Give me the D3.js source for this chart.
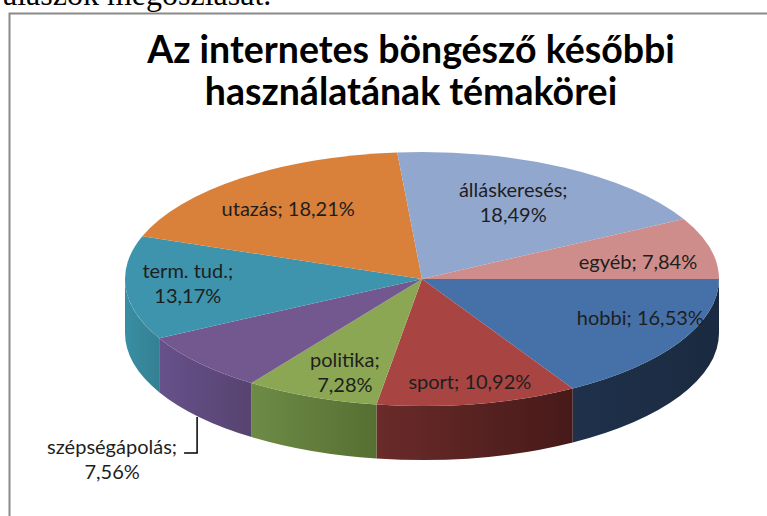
<!DOCTYPE html>
<html>
<head>
<meta charset="utf-8">
<script src="https://cdn.jsdelivr.net/npm/d3@7"></script>
<style>
  html, body { margin: 0; padding: 0; background: #fff; overflow: hidden; }
  svg { display: block; }
</style>
</head>
<body>
<div id="container"></div>
<script>
const categories = ["hobbi", "sport", "politika", "szépségápolás", "term. tud.", "utazás", "álláskeresés", "egyéb"];
const shares = [16.53, 10.92, 7.28, 7.56, 13.17, 18.21, 18.49, 7.84];
const valueLabels = ["16,53%", "10,92%", "7,28%", "7,56%", "13,17%", "18,21%", "18,49%", "7,84%"];
const titleLines = ["Az internetes böngésző későbbi", "használatának témakörei"];

const topColors = ["#4571a8", "#a84542", "#8ba753", "#73588f", "#3f94ad", "#d9803a", "#91a7ce", "#ce8d8b"];
const sideColors = [
  ["#1f314b", "#1a2a40"], ["#6a2b2a", "#461a19"], ["#6e8b46", "#566f32"],
  ["#66518a", "#574370"], ["#3a8ea3", "#348093"], ["#b0672c", "#8c4f1f"],
  ["#7487a8", "#5d6e8c"], ["#a87170", "#8a5a59"]
];
// label placement: [radius factor, dx, dy, two lines?]
const labelLayout = [
  [0.75, 25, -8, false], [0.75, 6, 9, false], [0.75, 6, 6, true], [0, 0, 0, true],
  [0.75, -12, -2, true], [0.75, 2, 6, false], [0.75, -15, 8, true], [0.75, 0, 6, false]
];

const w = 767;
const h = 516;
const cx = 422;
const cy = 279;
const rx = 297;
const ry = 127;
const depth = 54;

const svg = d3.select("#container").append("svg").attr("width", w).attr("height", h);
const defs = svg.append("defs");

// text above the chart frame, mostly cut off
svg.append("text")
  .attr("x", -13)
  .attr("y", 5)
  .attr("font-family", "Liberation Serif, serif")
  .attr("font-size", 32)
  .attr("fill", "#000")
  .text("válaszok megoszlását.");

// chart frame
svg.append("path")
  .attr("d", `M9.5,${h} L9.5,13.5 L${w},13.5`)
  .attr("fill", "none")
  .attr("stroke", "#8a8a8a")
  .attr("stroke-width", 2);

svg.append("g")
  .selectAll("text")
  .data(titleLines)
  .enter()
  .append("text")
  .attr("x", 411)
  .attr("y", (d, i) => 63 + i * 42)
  .attr("text-anchor", "middle")
  .attr("font-family", "Lato, sans-serif")
  .attr("font-weight", "bold")
  .attr("font-size", 37.5)
  .attr("fill", "#000")
  .text((d) => d);

const pie = d3.pie().sort(null).value((d) => d.v)
  .startAngle(Math.PI / 2).endAngle(Math.PI / 2 + 2 * Math.PI);
const arcs = pie(categories.map((c, i) => ({ c: c, v: shares[i], i: i })));

const pt = (a, dy = 0, f = 1) => [cx + rx * f * Math.sin(a), cy - ry * f * Math.cos(a) + dy];

// side walls (front half only)
const sides = svg.append("g");
arcs.forEach((d) => {
  const s = Math.max(d.startAngle, Math.PI / 2);
  const e = Math.min(d.endAngle, 1.5 * Math.PI);
  if (e <= s) return;
  const gid = "side" + d.data.i;
  const grad = defs.append("linearGradient").attr("id", gid)
    .attr("x1", 0).attr("x2", 1).attr("y1", 0).attr("y2", 0);
  grad.append("stop").attr("offset", 0).attr("stop-color", sideColors[d.data.i][0]);
  grad.append("stop").attr("offset", 1).attr("stop-color", sideColors[d.data.i][1]);
  const p0 = pt(s), p1 = pt(e), q1 = pt(e, depth), q0 = pt(s, depth);
  const large = e - s > Math.PI ? 1 : 0;
  sides.append("path")
    .attr("d", `M${p0} A${rx},${ry} 0 ${large} 1 ${p1} L${q1} A${rx},${ry} 0 ${large} 0 ${q0} Z`)
    .attr("fill", `url(#${gid})`);
});

// top faces
svg.append("g")
  .selectAll("path")
  .data(arcs)
  .enter()
  .append("path")
  .attr("d", (d) => {
    const p0 = pt(d.startAngle), p1 = pt(d.endAngle);
    const large = d.endAngle - d.startAngle > Math.PI ? 1 : 0;
    return `M${cx},${cy} L${p0} A${rx},${ry} 0 ${large} 1 ${p1} Z`;
  })
  .attr("fill", (d) => topColors[d.data.i]);

// data labels
const labels = svg.append("g")
  .attr("font-family", "Lato, sans-serif")
  .attr("font-size", 20)
  .attr("fill", "#1e1e1e")
  .attr("text-anchor", "middle");

arcs.forEach((d) => {
  const i = d.data.i;
  const lay = labelLayout[i];
  const mid = (d.startAngle + d.endAngle) / 2;
  let x, y;
  if (i === 3) {
    // outside label with leader line
    const edge = pt(mid, depth);
    x = edge[0] - 87;
    y = edge[1] + 43;
    labels.append("path")
      .attr("d", `M${edge[0] - 2},${edge[1]} L${edge[0] - 2},${edge[1] + 36} L${edge[0] - 15},${edge[1] + 36}`)
      .attr("fill", "none")
      .attr("stroke", "#000")
      .attr("stroke-width", 1.5);
  } else {
    const c = pt(mid, 0, lay[0]);
    x = c[0] + lay[1];
    y = c[1] + lay[2];
  }
  if (lay[3]) {
    labels.append("text").attr("x", x).attr("y", y - 6).text(d.data.c + ";");
    labels.append("text").attr("x", x).attr("y", y + 19).text(valueLabels[i]);
  } else {
    labels.append("text").attr("x", x).attr("y", y + 7).text(d.data.c + "; " + valueLabels[i]);
  }
});
</script>
</body>
</html>
